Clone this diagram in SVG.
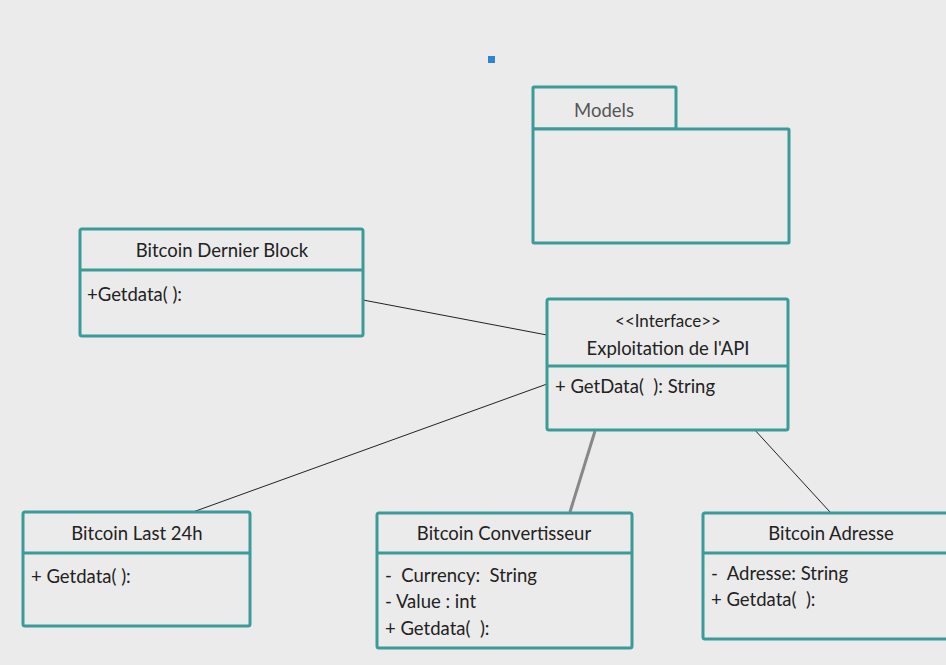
<svg xmlns="http://www.w3.org/2000/svg" width="946" height="665" viewBox="0 0 946 665">
<style>
.box{fill:#ebebeb;stroke:#3a9c98;stroke-width:3;}
.div{stroke:#3a9c98;stroke-width:3;}
.t{font-family:Lato,"Liberation Sans",sans-serif;font-size:18.5px;fill:#222;}
.c{text-anchor:middle;}
.ln{stroke:#222;stroke-width:1;fill:none;}
</style>
<rect width="946" height="665" fill="#ebebeb"/>
<rect x="488" y="56" width="7" height="7" fill="#2a86d0"/>
<g id="connectors">
<line class="ln" x1="363" y1="300" x2="547" y2="335"/>
<line class="ln" x1="547" y1="384" x2="193" y2="512"/>
<line x1="595" y1="431" x2="570" y2="512" stroke="#888" stroke-width="3"/>
<line class="ln" x1="753" y1="428" x2="830" y2="512"/>
</g>
<g id="models">
<rect class="box" x="533" y="87" width="143" height="42" rx="1"/>
<rect class="box" x="533" y="129" width="256" height="114" rx="1"/>
<text class="t c" x="604" y="117" style="fill:#555">Models</text>
</g>
<g id="dernier-block">
<rect class="box" x="80" y="229" width="283" height="107" rx="2"/>
<line class="div" x1="80" y1="270" x2="363" y2="270"/>
<text class="t c" x="222" y="257">Bitcoin Dernier  Block</text>
<text class="t" x="87" y="301">+Getdata( ):</text>
</g>
<g id="interface">
<rect class="box" x="547" y="299" width="241" height="131" rx="2"/>
<line class="div" x1="547" y1="366" x2="788" y2="366"/>
<text class="t c" x="668" y="327" style="font-size:17px">&lt;&lt;Interface&gt;&gt;</text>
<text class="t c" x="668" y="355">Exploitation de l'API</text>
<text class="t" x="555" y="393" xml:space="preserve">+ GetData(  ): String</text>
</g>
<g id="last24h">
<rect class="box" x="23" y="512" width="227" height="114" rx="2"/>
<line class="div" x1="23" y1="553" x2="250" y2="553"/>
<text class="t c" x="137" y="540">Bitcoin Last 24h</text>
<text class="t" x="31" y="583">+ Getdata( ):</text>
</g>
<g id="convertisseur">
<rect class="box" x="377" y="513" width="255" height="135" rx="2"/>
<line class="div" x1="377" y1="553" x2="632" y2="553"/>
<text class="t c" x="504" y="540">Bitcoin Convertisseur</text>
<text class="t" x="385" y="582" xml:space="preserve">-  Currency:  String</text>
<text class="t" x="385" y="608">- Value : int</text>
<text class="t" x="385" y="635" xml:space="preserve">+ Getdata(  ):</text>
</g>
<g id="adresse">
<rect class="box" x="703" y="513" width="260" height="126" rx="2"/>
<line class="div" x1="703" y1="553" x2="963" y2="553"/>
<text class="t c" x="831" y="540">Bitcoin Adresse</text>
<text class="t" x="711" y="580" xml:space="preserve">-  Adresse: String</text>
<text class="t" x="711" y="606" xml:space="preserve">+ Getdata(  ):</text>
</g>
</svg>
